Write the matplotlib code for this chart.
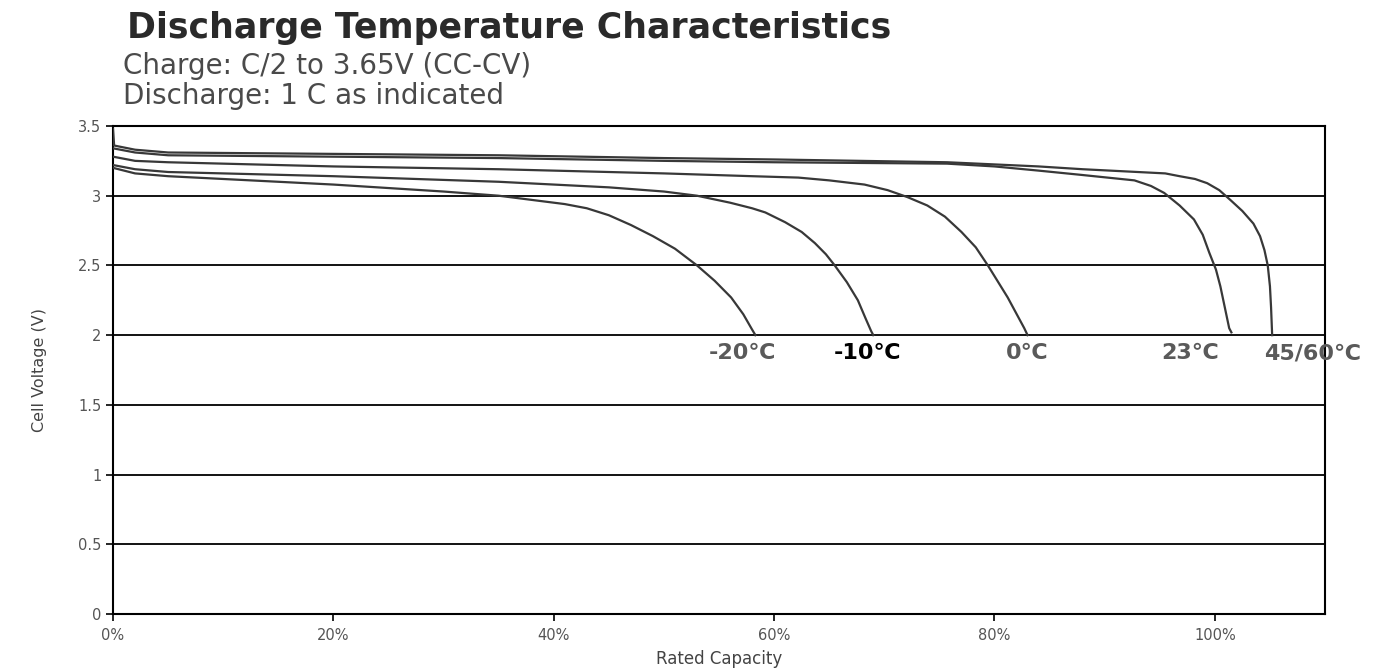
"""Discharge temperature characteristics of a LiFePO4 cell."""

import matplotlib.pyplot as plt
from matplotlib.ticker import FuncFormatter

# rated capacity (%) and cell voltage (V)
cap_45_60 = [0, 0.1, 2, 5, 20, 35, 50, 60, 75.7, 84, 88, 93, 95.5, 96.8,
             98.2, 99.3, 100.4, 101.4, 102.5, 103.5, 104.1, 104.5, 104.8,
             105.0, 105.1, 105.2]
v_45_60 = [3.48, 3.36, 3.33, 3.31, 3.30, 3.29, 3.27, 3.26, 3.24, 3.21, 3.19,
           3.17, 3.16, 3.14, 3.12, 3.09, 3.04, 2.97, 2.89, 2.80, 2.71, 2.61,
           2.50, 2.35, 2.20, 2.00]

cap_23 = [0, 2, 5, 20, 35, 50, 60, 75.7, 80, 84, 87.8, 92.7, 94.2, 95.4,
          96.8, 98.1, 98.9, 99.5, 100.1, 100.5, 100.9, 101.3, 101.5]
v_23 = [3.34, 3.31, 3.29, 3.28, 3.27, 3.25, 3.24, 3.23, 3.21, 3.18, 3.15,
        3.11, 3.07, 3.02, 2.93, 2.83, 2.72, 2.59, 2.47, 2.35, 2.20, 2.05, 2.02]

cap_0 = [0, 2, 5, 20, 35, 50, 58, 62.2, 65, 68.2, 70.3, 72.1, 73.9, 75.5,
         77.0, 78.3, 79.4, 81.2, 82.7, 83]
v_0 = [3.28, 3.25, 3.24, 3.21, 3.19, 3.16, 3.14, 3.13, 3.11, 3.08, 3.04,
       2.99, 2.93, 2.85, 2.74, 2.63, 2.50, 2.27, 2.05, 2.00]

cap_m10 = [0, 2, 5, 20, 35, 45, 50, 53, 56, 58, 59.2, 61, 62.5, 63.7, 64.7,
           65.5, 66.6, 67.6, 68.3, 68.8, 69]
v_m10 = [3.22, 3.19, 3.17, 3.14, 3.10, 3.06, 3.03, 3.00, 2.95, 2.91, 2.88,
         2.81, 2.74, 2.66, 2.58, 2.50, 2.38, 2.25, 2.12, 2.03, 2.00]

cap_m20 = [0, 2, 5, 20, 30, 35, 38, 41, 43, 45, 47, 49, 51, 53, 54.6, 56.1,
           57.2, 58, 58.3]
v_m20 = [3.20, 3.16, 3.14, 3.08, 3.03, 3.00, 2.97, 2.94, 2.91, 2.86, 2.79,
         2.71, 2.62, 2.50, 2.39, 2.27, 2.15, 2.04, 2.00]

curve_labels = ["-20℃", "-10℃", "0℃", "23℃", "45/60℃"]
label_x = [57.1, 68.5, 83.0, 97.8, 108.9]

y_ticks = [0, 0.5, 1, 1.5, 2, 2.5, 3, 3.5]
x_ticks = [0, 20, 40, 60, 80, 100]

LINE = "#383838"
FONT = ["DejaVu Sans", "Noto Sans CJK SC"]


def main():
    fig = plt.figure(figsize=(13.92, 6.72), dpi=100)
    ax = fig.add_axes([0.0812, 0.0863, 0.8707, 0.7262])

    # horizontal grid in black, like the datasheet
    for y in y_ticks[1:-1]:
        ax.axhline(y, color="black", lw=1.3, zorder=1)

    curves = [(cap_m20, v_m20), (cap_m10, v_m10), (cap_0, v_0),
              (cap_23, v_23), (cap_45_60, v_45_60)]
    for cap, volt in curves:
        ax.plot(cap, volt, color=LINE, lw=1.6, zorder=3,
                solid_joinstyle="round")

    # temperature labels under the 2 V cut-off
    for txt, x in zip(curve_labels, label_x):
        color = "black" if txt == "-10℃" else "#5a5a5a"
        ax.text(x, 1.87, txt, ha="center", va="center", fontsize=16,
                fontweight="bold", color=color, family=FONT)

    ax.set_xlim(0, 110)
    ax.set_ylim(0, 3.5)
    ax.set_xticks(x_ticks)
    ax.set_yticks(y_ticks)
    ax.xaxis.set_major_formatter(FuncFormatter(lambda v, _: f"{v:.0f}%"))
    ax.yaxis.set_major_formatter(FuncFormatter(lambda v, _: f"{v:g}"))
    ax.tick_params(axis="both", direction="out", length=5, width=1.2,
                   labelsize=10.5, labelcolor="#555555")
    ax.tick_params(axis="x", pad=5)
    for side in ax.spines.values():
        side.set_linewidth(1.5)
        side.set_color("black")

    ax.set_xlabel("Rated Capacity", fontsize=12, color="#444444", labelpad=5)
    ax.set_ylabel("Cell Voltage (V)", fontsize=11.5, color="#444444",
                  labelpad=22)

    fig.text(0.0912, 0.958, "Discharge Temperature Characteristics",
             fontsize=25, fontweight="bold", color="#2a2a2a", va="center")
    fig.text(0.0884, 0.902, "Charge: C/2 to 3.65V (CC-CV)",
             fontsize=20, color="#4a4a4a", va="center")
    fig.text(0.0884, 0.857, "Discharge: 1 C as indicated",
             fontsize=20, color="#4a4a4a", va="center")

    fig.savefig("out.png", dpi=100)
    plt.close(fig)


if __name__ == "__main__":
    main()
